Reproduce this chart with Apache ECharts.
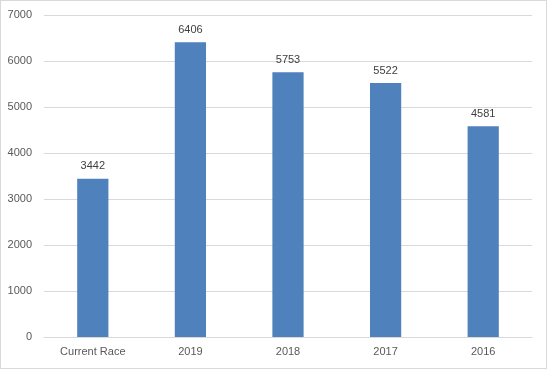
<!DOCTYPE html>
<html><head><meta charset="utf-8">
<script src="https://cdn.jsdelivr.net/npm/echarts@6/dist/echarts.min.js"></script>
<style>html,body{margin:0;padding:0;background:#fff;}#c{width:547px;height:369px;box-sizing:border-box;border:1px solid #d9d9d9;}</style>
</head><body><div id="c"></div>
<script>
const categories = ['Current Race', '2019', '2018', '2017', '2016'];
const values = [3442, 6406, 5753, 5522, 4581];
const yTicks = { min: 0, max: 7000, interval: 1000 };

const chart = echarts.init(document.getElementById('c'), null, {renderer: 'canvas'});
chart.setOption({
  animation: false,
  grid: { left: 43, right: 14, top: 14, bottom: 31, containLabel: false },
  xAxis: {
    type: 'category', data: categories,
    axisLine: { lineStyle: { color: '#d9d9d9' } },
    axisTick: { show: false },
    axisLabel: { color: '#595959', fontFamily: 'Liberation Sans', fontSize: 11, margin: 9 }
  },
  yAxis: {
    type: 'value', min: yTicks.min, max: yTicks.max, interval: yTicks.interval,
    axisLine: { show: false }, axisTick: { show: false },
    splitLine: { lineStyle: { color: '#d9d9d9' } },
    axisLabel: { color: '#595959', fontFamily: 'Liberation Sans', fontSize: 11, margin: 12, formatter: v => String(v) }
  },
  series: [{
    type: 'bar', data: values, barWidth: '32%',
    itemStyle: { color: '#4F81BD' },
    label: { show: true, position: 'top', distance: 7, color: '#404040', fontFamily: 'Liberation Sans', fontSize: 11 }
  }]
});
</script></body></html>
